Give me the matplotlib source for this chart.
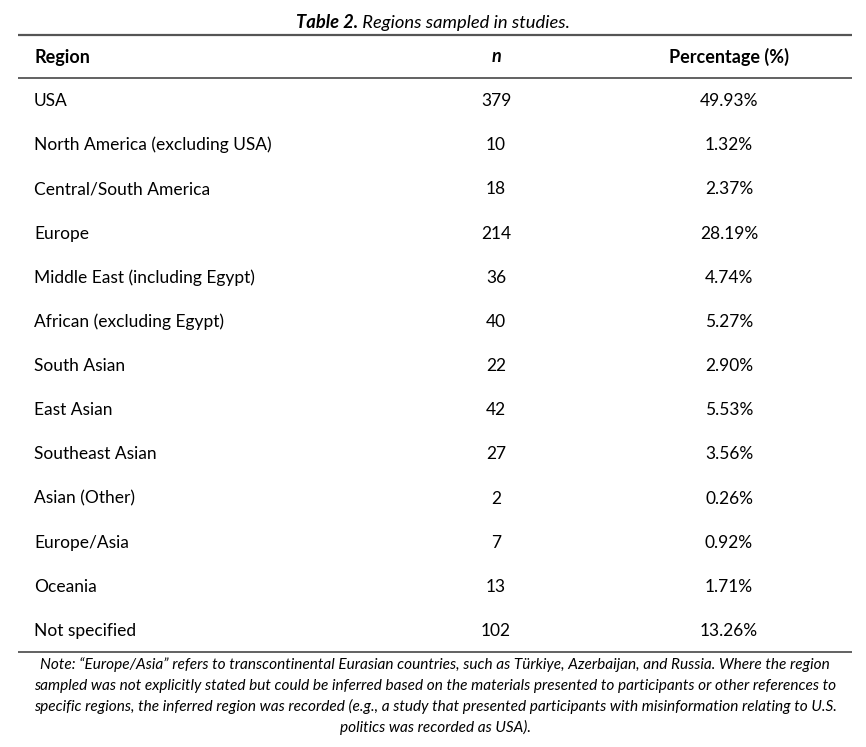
import matplotlib
matplotlib.use("Agg")
import matplotlib.pyplot as plt

title_bold = "Table 2."
title_rest = " Regions sampled in studies."
headers = ["Region", "n", "Percentage (%)"]
regions = ["USA", "North America (excluding USA)", "Central/South America", "Europe",
           "Middle East (including Egypt)", "African (excluding Egypt)", "South Asian",
           "East Asian", "Southeast Asian", "Asian (Other)", "Europe/Asia", "Oceania",
           "Not specified"]
counts = [379, 10, 18, 214, 36, 40, 22, 42, 27, 2, 7, 13, 102]
percents = ["49.93%", "1.32%", "2.37%", "28.19%", "4.74%", "5.27%", "2.90%", "5.53%",
            "3.56%", "0.26%", "0.92%", "1.71%", "13.26%"]
note_lines = [
    "Note: \u201cEurope/Asia\u201d refers to transcontinental Eurasian countries, such as T\u00fcrkiye, Azerbaijan, and Russia. Where the region",
    "sampled was not explicitly stated but could be inferred based on the materials presented to participants or other references to",
    "specific regions, the inferred region was recorded (e.g., a study that presented participants with misinformation relating to U.S.",
    "politics was recorded as USA).",
]

FONT = "Lato"
W, H = 866, 747
fig = plt.figure(figsize=(W / 100, H / 100), dpi=100)
ax = fig.add_axes([0, 0, 1, 1])
ax.set_xlim(0, W)
ax.set_ylim(H, 0)
ax.axis("off")

fs = 12.5
hfs = 13.0
tfs = 13.2
col_left = 34
col_n = 496
col_pct = 729
line_x0, line_x1 = 18, 852
lc = "#555555"

# title (bold part + italic part, centred together)
ty = 23
t1 = ax.text(432, ty, title_bold + title_rest, ha="center", va="center", fontsize=tfs,
             family=FONT, style="italic", alpha=0)
fig.canvas.draw()
inv = ax.transData.inverted()
x_start = inv.transform((t1.get_window_extent().x0, 0))[0]
tb = ax.text(x_start, ty, title_bold, ha="left", va="center", fontsize=tfs, family=FONT,
             style="italic", weight="bold")
fig.canvas.draw()
x_mid = inv.transform((tb.get_window_extent().x1, 0))[0]
ax.text(x_mid, ty, title_rest, ha="left", va="center", fontsize=tfs, family=FONT,
        style="italic")

# rules
ax.plot([line_x0, line_x1], [35, 35], color=lc, lw=1.6, solid_capstyle="butt")
ax.plot([line_x0, line_x1], [78, 78], color=lc, lw=1.3, solid_capstyle="butt")
ax.plot([line_x0, line_x1], [652, 652], color=lc, lw=1.3, solid_capstyle="butt")

# headers
hy = 57
ax.text(col_left, hy, headers[0], ha="left", va="center", fontsize=hfs, family=FONT, weight="bold")
ax.text(col_n, hy, headers[1], ha="center", va="center", fontsize=hfs, family=FONT,
        weight="bold", style="italic")
ax.text(col_pct, hy, headers[2], ha="center", va="center", fontsize=hfs, family=FONT, weight="bold")

# rows
y0, dy = 101, 44.17
for i, (r, c, p) in enumerate(zip(regions, counts, percents)):
    y = y0 + i * dy
    ax.text(col_left, y, r, ha="left", va="center", fontsize=fs, family=FONT)
    ax.text(col_n, y, str(c), ha="center", va="center", fontsize=fs, family=FONT)
    ax.text(col_pct, y, p, ha="center", va="center", fontsize=fs, family=FONT)

# note
for i, ln in enumerate(note_lines):
    ax.text(435, 665 + i * 20.7, ln, ha="center", va="center", fontsize=11.05,
            family=FONT, style="italic")

fig.savefig("out.png", dpi=100, facecolor="white")
